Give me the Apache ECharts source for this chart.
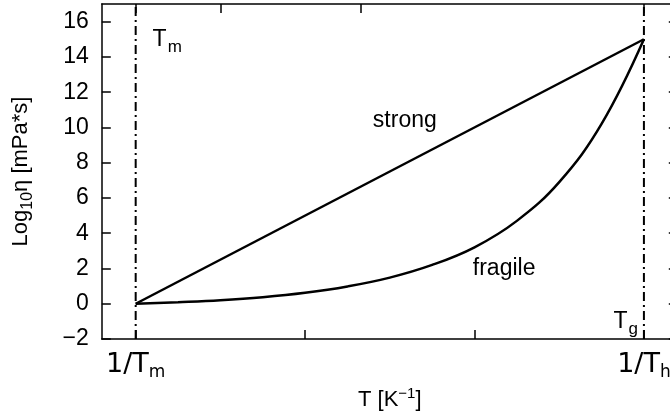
<!DOCTYPE html>
<html><head><meta charset="utf-8">
<script src="https://cdn.jsdelivr.net/npm/echarts@6/dist/echarts.min.js"></script>
<style>html,body{margin:0;padding:0;background:#fff}#c{width:670px;height:417px}</style>
</head><body><div id="c"></div>
<script>
// ---- data ----
const xTickValues = [0, 1, 2, 3];
const xTickLabels = ['1/T{s|m}', '', '', '1/T{s|h}'];
const topTickValues = [0, 0.5, 1.33, 3];
const yTickValues = [-2, 0, 2, 4, 6, 8, 10, 12, 14, 16];
const strongX = [0, 3];
const strongY = [0, 15];
const fragileX = [0, 0.25, 0.5, 0.75, 1, 1.25, 1.5, 1.75, 2, 2.25, 2.5, 2.75, 3];
const fragileY = [0, 0.09, 0.2, 0.37, 0.62, 0.98, 1.48, 2.2, 3.2, 4.7, 6.9, 10.2, 15];
const markerX = [0, 3];
const annoText = ['T{s|m}', 'strong', 'fragile', 'T{s|g}'];
const annoX = [0.1, 1.4, 1.99, 2.82];
const annoY = [15, 10.4, 2.0, -1.0];

const xMin = -0.2, xMax = 3.2, yMin = -2, yMax = 17;
const sans = '"Liberation Sans", Arial, Helvetica, sans-serif';
const dv = '"DejaVu Sans", sans-serif';

const chart = echarts.init(document.getElementById('c'), null, {renderer: 'canvas'});
const axLine = {show: true, onZero: false, lineStyle: {color: '#000', width: 1.5}};
const tick = (vals) => ({show: true, inside: true, length: 9, customValues: vals, lineStyle: {color: '#000', width: 1.5}});

const series = [
  {type: 'line', data: strongX.map((x, i) => [x, strongY[i]]), showSymbol: false, symbol: 'none',
   lineStyle: {color: '#000', width: 2.5}, z: 3},
  {type: 'line', data: fragileX.map((x, i) => [x, fragileY[i]]), smooth: 0.4,
   showSymbol: false, symbol: 'none', lineStyle: {color: '#000', width: 2.5}, z: 3}
];
markerX.forEach(mx => series.push({
  type: 'line', data: [[mx, yMin], [mx, yMax]], showSymbol: false, symbol: 'none',
  lineStyle: {color: '#000', width: 2, type: [9, 4, 2, 4]}, z: 2
}));
series.push({
  type: 'scatter', symbolSize: 0, itemStyle: {opacity: 1},
  data: annoText.map((t, i) => ({value: [annoX[i], annoY[i]], name: t})),
  label: {show: true, position: 'inside', align: 'left', verticalAlign: 'middle',
    formatter: p => p.name, color: '#000', fontFamily: sans, fontSize: 23,
    rich: {s: {fontSize: 17, fontFamily: sans, color: '#000', verticalAlign: 'bottom', padding: [16, 0, 0, 1]}}},
  emphasis: {disabled: true},
  z: 5
});

chart.setOption({
  animation: false,
  backgroundColor: '#fff',
  grid: {left: 101.8, top: 4, width: 576, height: 335, containLabel: false, outerBoundsMode: 'none'},
  xAxis: [
    {type: 'value', min: xMin, max: xMax, position: 'bottom',
     axisLine: axLine, axisTick: tick(xTickValues), splitLine: {show: false},
     axisLabel: {show: true, customValues: [xTickValues[0], xTickValues[3]], margin: 9,
       formatter: v => xTickLabels[xTickValues.indexOf(v)] || '',
       color: '#000', fontFamily: dv, fontSize: 27,
       rich: {s: {fontFamily: dv, fontSize: 17, color: '#000', verticalAlign: 'bottom', padding: [16, 0, 0, 0]}}},
     name: 'T [K{sup|−1}]', nameLocation: 'middle', nameGap: 47,
     nameTextStyle: {color: '#000', fontFamily: sans, fontSize: 22,
       rich: {sup: {fontSize: 15, fontFamily: sans, color: '#000', verticalAlign: 'top', padding: [0, 0, 12, 0]}}}},
    {type: 'value', min: xMin, max: xMax, position: 'top',
     axisLine: axLine, axisTick: tick(topTickValues), axisLabel: {show: false}, splitLine: {show: false}}
  ],
  yAxis: [
    {type: 'value', min: yMin, max: yMax, interval: 2, position: 'left',
     axisLine: axLine, axisTick: tick(yTickValues), splitLine: {show: false},
     axisLabel: {customValues: yTickValues, margin: 13, color: '#000', fontFamily: sans, fontSize: 23,
       formatter: v => (v < 0 ? '−' + Math.abs(v) : String(v))},
     name: 'Log{s|10}η [mPa*s]', nameLocation: 'middle', nameGap: 66, nameRotate: 90,
     nameTextStyle: {color: '#000', fontFamily: sans, fontSize: 22,
       rich: {s: {fontSize: 16, fontFamily: sans, color: '#000', verticalAlign: 'bottom', padding: [14, 0, 0, 0]}}}},
    {type: 'value', min: yMin, max: yMax, interval: 2, position: 'right',
     axisLine: axLine, axisTick: tick(yTickValues), axisLabel: {show: false}, splitLine: {show: false}}
  ],
  series: series
});
</script></body></html>
